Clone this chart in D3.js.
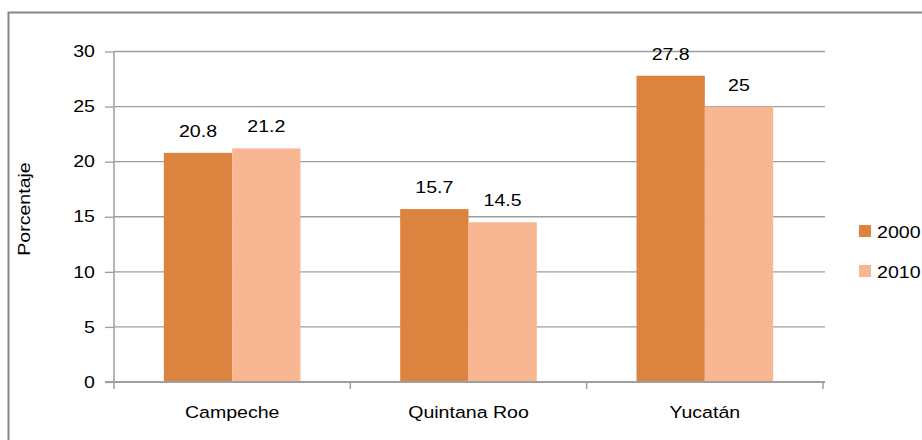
<!DOCTYPE html>
<html><head><meta charset="utf-8">
<script src="https://cdn.jsdelivr.net/npm/d3@7"></script>
<style>body{margin:0;background:#fff}svg{display:block;font-family:"Liberation Sans",Arial,sans-serif}</style>
</head><body><svg id="c" width="922" height="440"></svg>
<script>
const categories = ["Campeche", "Quintana Roo", "Yucatán"];
const seriesNames = ["2000", "2010"];
const values2000 = [20.8, 15.7, 27.8];
const values2010 = [21.2, 14.5, 25];
const yTicks = [0, 5, 10, 15, 20, 25, 30];
const colors = ["#DC843F", "#F9B693"];

const FS = 16.3, SX = 1.2;
const svg = d3.select("#c");
// outer frame
svg.append("rect").attr("x", 8.5).attr("y", 12.5).attr("width", 1000).attr("height", 1000)
  .attr("fill", "none").attr("stroke", "#868686").attr("stroke-width", 2);

const x0 = d3.scaleBand().domain(categories).range([114, 823]).paddingInner(0).paddingOuter(0);
const x1 = d3.scaleBand().domain(seriesNames).range([0, x0.bandwidth()]).paddingInner(0).paddingOuter(0.73);
const y = d3.scaleLinear().domain([0, 30]).range([382, 51.5]);

function label(parent, x, yy, txt, anchor) {
  return parent.append("text").attr("transform", `translate(${x},${yy}) scale(${SX},1)`)
    .attr("text-anchor", anchor || "start").attr("font-size", FS).attr("fill", "#000").text(txt);
}

// gridlines
svg.append("g").selectAll("line").data(yTicks.filter(d => d > 0)).join("line")
  .attr("x1", 114).attr("x2", 825).attr("y1", d => y(d)).attr("y2", d => y(d))
  .attr("stroke", "#9E9E9E").attr("stroke-width", 1.3);

const data = categories.map((c, i) => ({c, vals: [values2000[i], values2010[i]]}));
const g = svg.append("g").selectAll("g").data(data).join("g")
  .attr("transform", d => `translate(${x0(d.c)},0)`);
g.selectAll("rect").data(d => d.vals.map((v, j) => ({v, s: seriesNames[j], j}))).join("rect")
  .attr("x", d => x1(d.s)).attr("width", x1.bandwidth())
  .attr("y", d => y(d.v)).attr("height", d => y(0) - y(d.v))
  .attr("fill", d => colors[d.j]);
g.each(function(d) {
  const gg = d3.select(this);
  d.vals.forEach((v, j) => label(gg, x1(seriesNames[j]) + x1.bandwidth() / 2, y(v) - 16, String(v), "middle"));
});

// y axis
const ya = svg.append("g").attr("transform", "translate(114,0)")
  .call(d3.axisLeft(y).tickValues(yTicks).tickSize(9).tickPadding(10));
ya.select(".domain").attr("stroke", "#9E9E9E").attr("stroke-width", 1.5).attr("d", `M0,${y(30)}V${y(0)}`);
ya.selectAll(".tick line").attr("stroke", "#9E9E9E").attr("stroke-width", 1.3);
ya.selectAll(".tick text").attr("font-size", FS).attr("fill", "#000")
  .attr("font-family", "Liberation Sans, Arial, sans-serif")
  .attr("x", -19 / SX).attr("transform", `scale(${SX},1)`);

// x axis
const xa = svg.append("g").attr("transform", `translate(0,${y(0)})`)
  .call(d3.axisBottom(x0).tickSize(0).tickPadding(24));
xa.select(".domain").attr("stroke", "#9E9E9E").attr("stroke-width", 2).attr("d", "M105,0H825");
xa.selectAll(".tick text").attr("font-size", FS).attr("fill", "#000")
  .attr("font-family", "Liberation Sans, Arial, sans-serif").attr("transform", `scale(${SX},1)`);
// category separators
const seps = [0, 1, 2, 3].map(i => i === 3 ? x0.range()[1] : x0(categories[i]));
svg.append("g").selectAll("line").data(seps).join("line")
  .attr("x1", d => d).attr("x2", d => d).attr("y1", y(0)).attr("y2", y(0) + 7)
  .attr("stroke", "#9E9E9E").attr("stroke-width", 1.5);

// y title
svg.append("text").attr("transform", `translate(30,209) rotate(-90) scale(${SX},1)`)
  .attr("text-anchor", "middle").attr("font-size", FS).text("Porcentaje");

// legend
const lg = svg.append("g").selectAll("g").data(seriesNames).join("g")
  .attr("transform", (d, i) => `translate(859,${225 + i * 40})`);
lg.append("rect").attr("width", 12).attr("height", 12).attr("fill", (d, i) => colors[i]);
lg.each(function(d) { label(d3.select(this), 18, 13, d, "start"); });
</script></body></html>
